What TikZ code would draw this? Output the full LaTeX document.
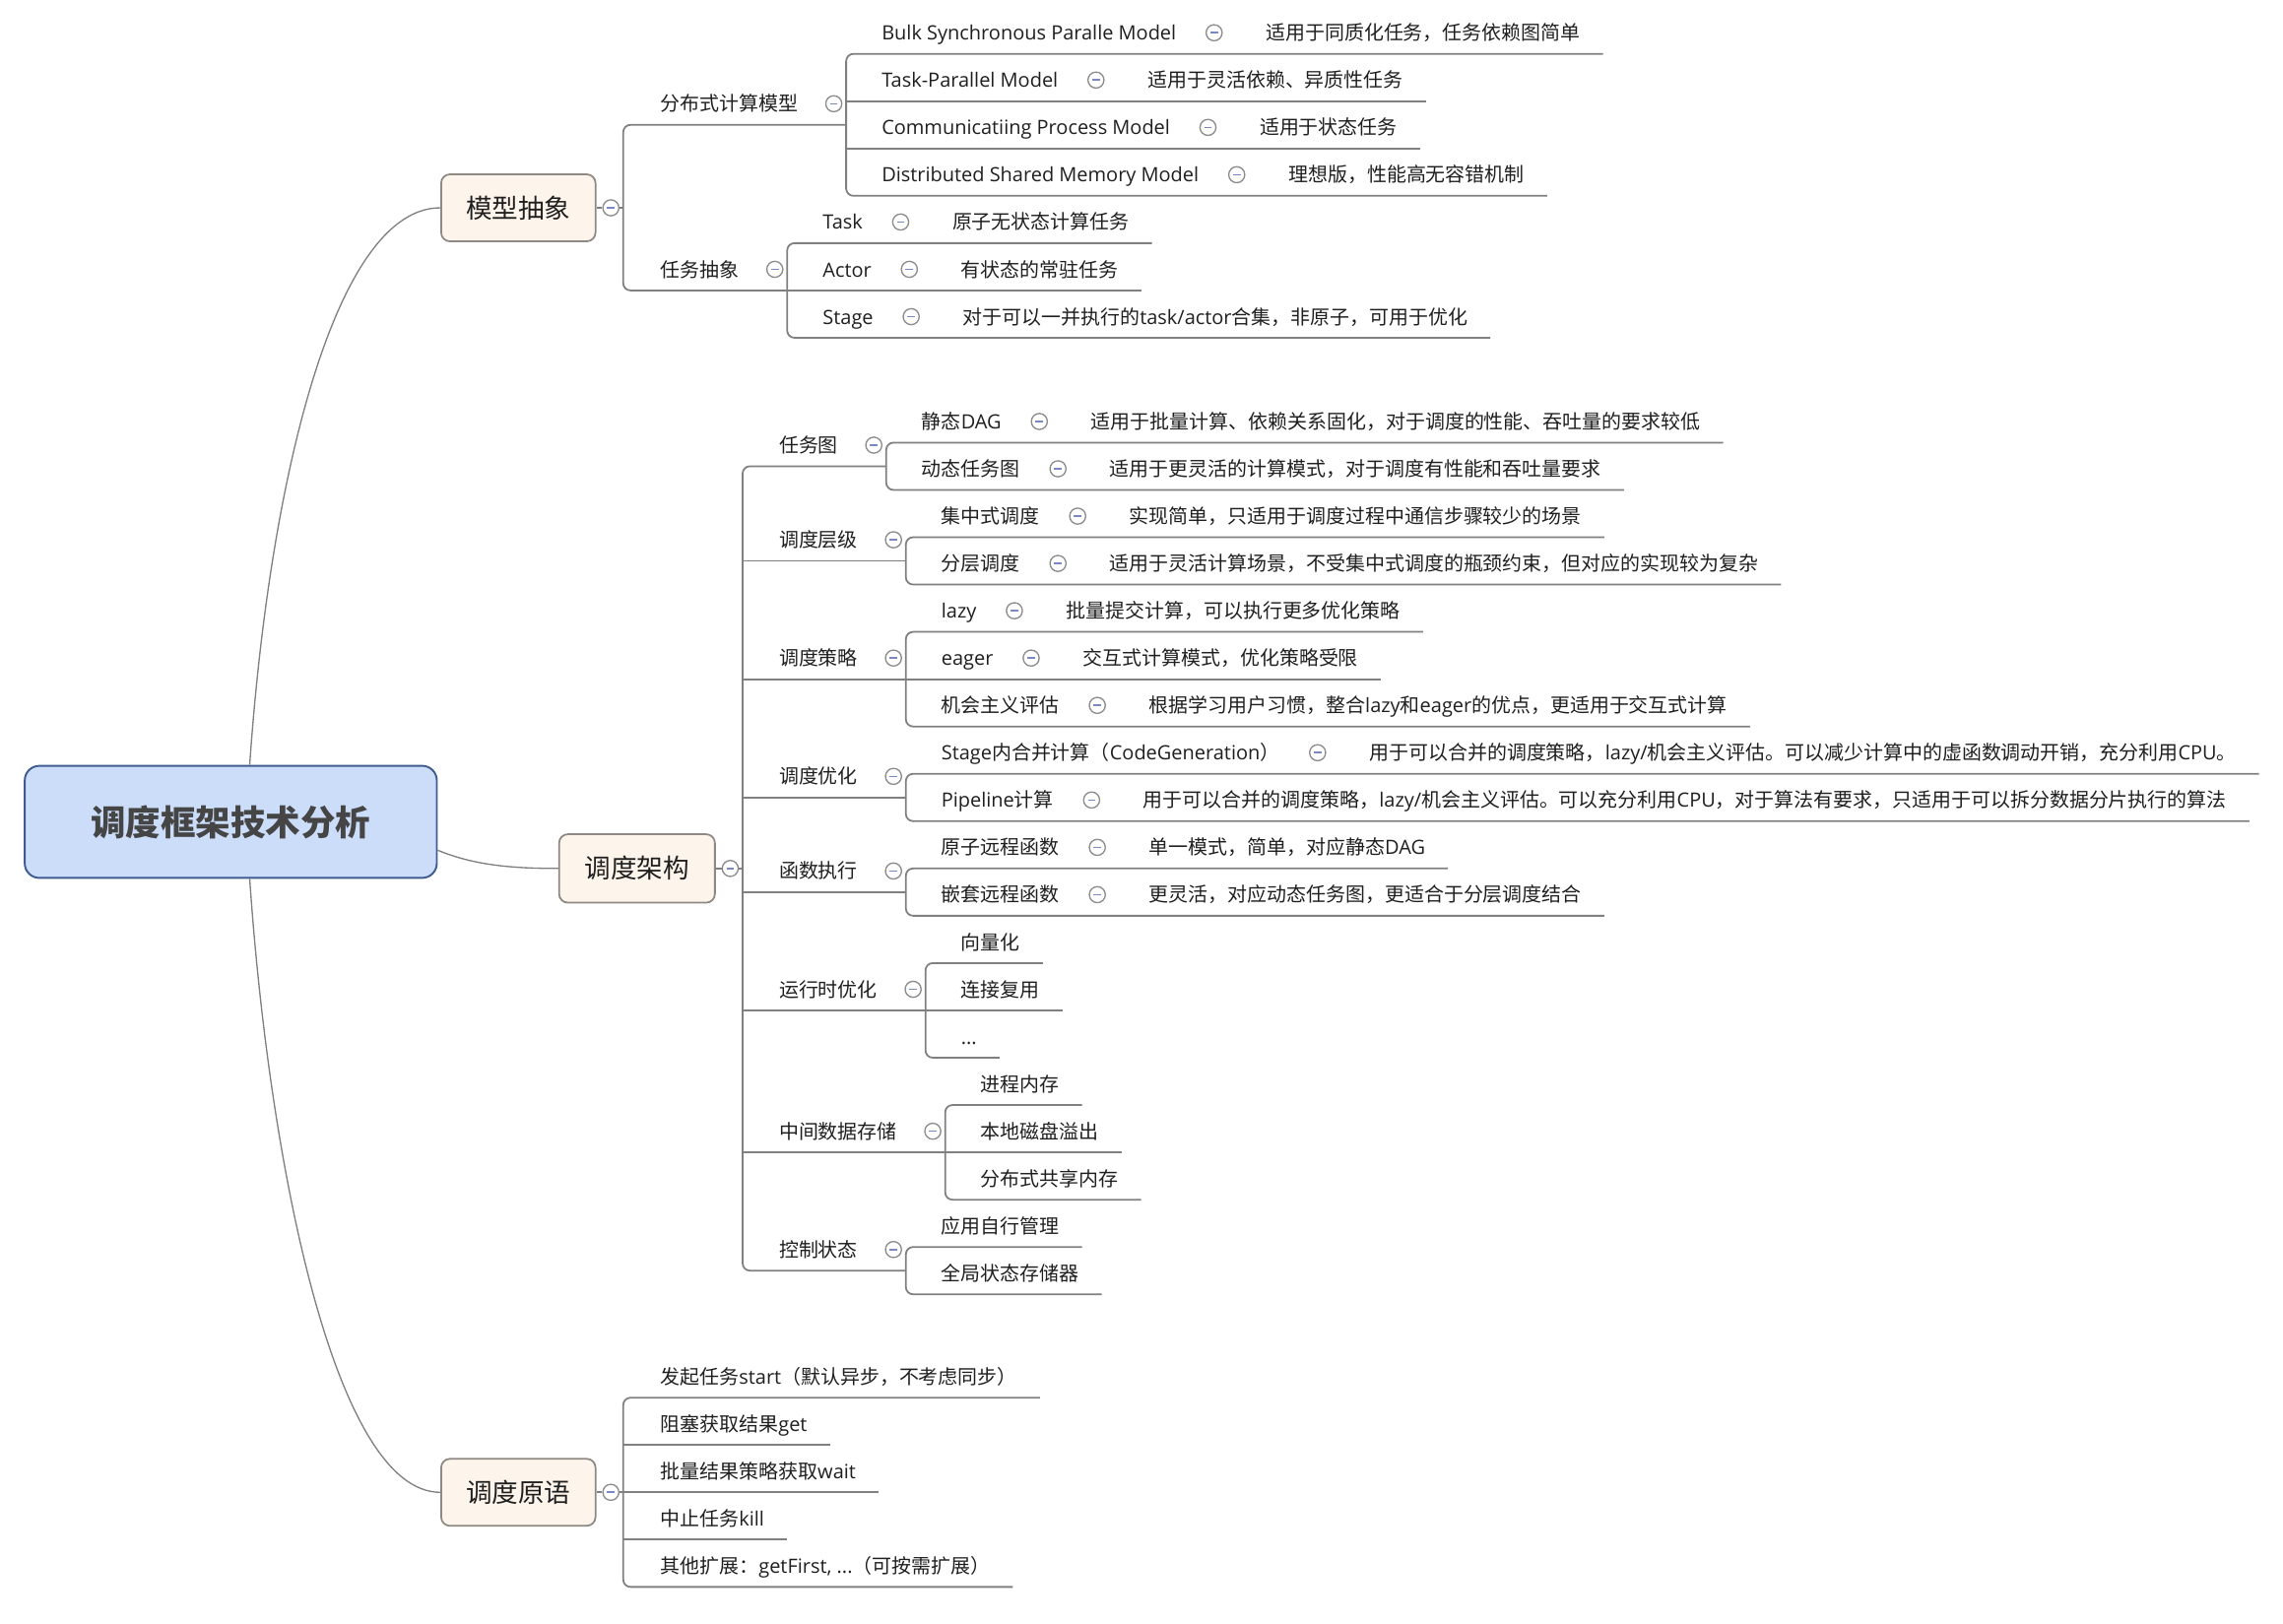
\documentclass[tikz,border=0pt]{standalone}
\usepackage{fontspec}
\setmainfont{Noto Sans CJK SC}
\newfontfamily\latinfont{Open Sans}
\newcommand{\entext}[1]{{\latinfont #1}}
\usetikzlibrary{positioning, calc}
\definecolor{cbluefill}{HTML}{CCDDFA}
\definecolor{cnavy}{HTML}{3E5C8F}
\definecolor{ccream}{HTML}{FDF4EB}
\definecolor{ctan}{HTML}{8F8984}
\definecolor{cline}{HTML}{808080}
\definecolor{cfold}{HTML}{8C8C8C}
\definecolor{cminus}{HTML}{7B88C6}
\definecolor{ctext}{HTML}{1F1F1F}
\definecolor{croottext}{HTML}{454545}
\tikzset{
  every picture/.style={line width=1.2pt},
  rootbox/.style={draw=cnavy, fill=cbluefill, rounded corners=10pt, line width=1.3pt, minimum width=283pt, minimum height=77pt, text=croottext, font=\fontsize{24}{28}\selectfont\bfseries},
  topicbox/.style={draw=ctan, fill=ccream, rounded corners=6pt, line width=1.2pt, minimum width=106pt, minimum height=46pt, text=ctext, font=\fontsize{18}{22}\selectfont},
  leaftext/.style={anchor=west, inner sep=0pt, text height=11.5pt, text depth=1.3pt, text=ctext, font=\fontsize{13.5}{16}\selectfont},
  foldbtn/.style={circle, draw=cfold, fill=white, line width=0.9pt, minimum size=11pt, inner sep=0pt,
    path picture={\draw[cminus, line width=1.1pt] ([xshift=-2.6pt]path picture bounding box.center) -- ([xshift=2.6pt]path picture bounding box.center);}},
  branch/.style={draw=cline, line width=1.2pt},
  rootline/.style={draw=cline, line width=0.9pt},
}

\begin{document}
\begin{tikzpicture}[x=1pt, y=-1pt]
  \useasboundingbox (0,0) rectangle (1568,1115);

  \node[rootbox] (root) at (158.5,564.5) {调度框架技术分析};
  \node[topicbox] (model) at (356,142.75) {模型抽象};
  \node[topicbox, minimum width=107pt, minimum height=47pt] (arch) at (437.5,596.5) {调度架构};
  \node[topicbox] (prim) at (356,1025) {调度原语};

  \draw[rootline] ($(root.north)+(13,0)$) .. controls (185,330) and (230,142.75) .. (model.west);
  \draw[rootline] ($(root.east)+(0,19.5)$) .. controls (325,594) and (350,596.5) .. (arch.west);
  \draw[rootline] ($(root.south)+(13,0)$) .. controls (185,800) and (230,1025) .. (prim.west);

  \node[foldbtn, right=4pt of model] (modelf) {};
  \coordinate (models) at ($(modelf)+(8.5,0)$);
  \draw[branch] (model) -- (modelf) (modelf) -- (models);
  \node[foldbtn, right=4pt of arch] (archf) {};
  \coordinate (archs) at ($(archf)+(8.5,0)$);
  \draw[branch] (arch) -- (archf) (archf) -- (archs);
  \node[foldbtn, right=4pt of prim] (primf) {};
  \coordinate (prims) at ($(primf)+(8.5,0)$);
  \draw[branch] (prim) -- (primf) (primf) -- (prims);

  % 模型抽象
  \node[leaftext] (dm) at (453,71.25) {分布式计算模型};
  \node[foldbtn, right=18pt of dm] (dmf) {};
  \coordinate (dmx) at ($(dmf)+(8.5,14.5)$);
  \node[leaftext] (rw) at (453,185) {任务抽象};
  \node[foldbtn, right=18pt of rw] (rwf) {};
  \coordinate (rwx) at ($(rwf)+(8.5,14.5)$);
  \draw[branch, rounded corners=5pt] (dmx) -- (dmx -| models) -- (rwx -| models) -- (rwx);

  \node[leaftext] (m1) at (605,22.5) {\entext{Bulk Synchronous Paralle Model}};
  \node[foldbtn, right=19.5pt of m1] (m1f) {};
  \node[leaftext, right=29pt of m1f] (m1d) {适用于同质化任务，任务依赖图简单};
  \coordinate (m1e) at ($(m1d.east)+(15,14.5)$);
  \node[leaftext] (m2) at (605,55) {\entext{Task-Parallel Model}};
  \node[foldbtn, right=19.5pt of m2] (m2f) {};
  \node[leaftext, right=29pt of m2f] (m2d) {适用于灵活依赖、异质性任务};
  \coordinate (m2e) at ($(m2d.east)+(15,14.5)$);
  \node[leaftext] (m3) at (605,87.5) {\entext{Communicatiing Process Model}};
  \node[foldbtn, right=19.5pt of m3] (m3f) {};
  \node[leaftext, right=29pt of m3f] (m3d) {适用于状态任务};
  \coordinate (m3e) at ($(m3d.east)+(15,14.5)$);
  \node[leaftext] (m4) at (605,120) {\entext{Distributed Shared Memory Model}};
  \node[foldbtn, right=19.5pt of m4] (m4f) {};
  \node[leaftext, right=29pt of m4f] (m4d) {理想版，性能高无容错机制};
  \coordinate (m4e) at ($(m4d.east)+(15,14.5)$);
  \draw[branch, rounded corners=5pt] (m1e) -- (m1e -| dmx) -- (m4e -| dmx) -- (m4e);
  \draw[branch] (m2e -| dmx) -- (m2e) (m3e -| dmx) -- (m3e);

  \node[leaftext] (r1) at (564.5,152.5) {\entext{Task}};
  \node[foldbtn, right=19.5pt of r1] (r1f) {};
  \node[leaftext, right=29pt of r1f] (r1d) {原子无状态计算任务};
  \coordinate (r1e) at ($(r1d.east)+(15,14.5)$);
  \node[leaftext] (r2) at (564.5,185) {\entext{Actor}};
  \node[foldbtn, right=19.5pt of r2] (r2f) {};
  \node[leaftext, right=29pt of r2f] (r2d) {有状态的常驻任务};
  \coordinate (r2e) at ($(r2d.east)+(15,14.5)$);
  \node[leaftext] (r3) at (564.5,217.5) {\entext{Stage}};
  \node[foldbtn, right=19.5pt of r3] (r3f) {};
  \node[leaftext, right=29pt of r3f] (r3d) {对于可以一并执行的\entext{task/actor}合集，非原子，可用于优化};
  \coordinate (r3e) at ($(r3d.east)+(15,14.5)$);
  \draw[branch, rounded corners=5pt] (r1e) -- (r1e -| rwx) -- (r3e -| rwx) -- (r3e);
  \draw[branch] (r2e -| rwx) -- (r2e);

  % 调度架构
  \node[leaftext] (tg) at (534.5,305.75) {任务图};
  \node[foldbtn, right=18pt of tg] (tgf) {};
  \coordinate (tgx) at ($(tgf)+(8.5,14.5)$);
  \node[leaftext] (cj) at (534.5,370.75) {调度层级};
  \node[foldbtn, right=18pt of cj] (cjf) {};
  \coordinate (cjx) at ($(cjf)+(8.5,14.5)$);
  \node[leaftext] (cl) at (534.5,452) {调度策略};
  \node[foldbtn, right=18pt of cl] (clf) {};
  \coordinate (clx) at ($(clf)+(8.5,14.5)$);
  \node[leaftext] (yh) at (534.5,533.25) {调度优化};
  \node[foldbtn, right=18pt of yh] (yhf) {};
  \coordinate (yhx) at ($(yhf)+(8.5,14.5)$);
  \node[leaftext] (hs) at (534.5,598.25) {函数执行};
  \node[foldbtn, right=18pt of hs] (hsf) {};
  \coordinate (hsx) at ($(hsf)+(8.5,14.5)$);
  \node[leaftext] (yx) at (534.5,679.5) {运行时优化};
  \node[foldbtn, right=18pt of yx] (yxf) {};
  \coordinate (yxx) at ($(yxf)+(8.5,14.5)$);
  \node[leaftext] (zj) at (534.5,777) {中间数据存储};
  \node[foldbtn, right=18pt of zj] (zjf) {};
  \coordinate (zjx) at ($(zjf)+(8.5,14.5)$);
  \node[leaftext] (kz) at (534.5,858.25) {控制状态};
  \node[foldbtn, right=18pt of kz] (kzf) {};
  \coordinate (kzx) at ($(kzf)+(8.5,14.5)$);
  \draw[branch, rounded corners=5pt] (tgx) -- (tgx -| archs) -- (kzx -| archs) -- (kzx);
  \draw[branch] (cjx -| archs) -- (cjx) (clx -| archs) -- (clx) (yhx -| archs) -- (yhx)
    (hsx -| archs) -- (hsx) (yxx -| archs) -- (yxx) (zjx -| archs) -- (zjx);

  \node[leaftext] (tg1) at (632.5,289.5) {静态\entext{DAG}};
  \node[foldbtn, right=19.5pt of tg1] (tg1f) {};
  \node[leaftext, right=29pt of tg1f] (tg1d) {适用于批量计算、依赖关系固化，对于调度的性能、吞吐量的要求较低};
  \coordinate (tg1e) at ($(tg1d.east)+(15,14.5)$);
  \node[leaftext] (tg2) at (632.5,322) {动态任务图};
  \node[foldbtn, right=19.5pt of tg2] (tg2f) {};
  \node[leaftext, right=29pt of tg2f] (tg2d) {适用于更灵活的计算模式，对于调度有性能和吞吐量要求};
  \coordinate (tg2e) at ($(tg2d.east)+(15,14.5)$);
  \draw[branch, rounded corners=5pt] (tg1e) -- (tg1e -| tgx) -- (tg2e -| tgx) -- (tg2e);

  \node[leaftext] (cj1) at (646,354.5) {集中式调度};
  \node[foldbtn, right=19.5pt of cj1] (cj1f) {};
  \node[leaftext, right=29pt of cj1f] (cj1d) {实现简单，只适用于调度过程中通信步骤较少的场景};
  \coordinate (cj1e) at ($(cj1d.east)+(15,14.5)$);
  \node[leaftext] (cj2) at (646,387) {分层调度};
  \node[foldbtn, right=19.5pt of cj2] (cj2f) {};
  \node[leaftext, right=29pt of cj2f] (cj2d) {适用于灵活计算场景，不受集中式调度的瓶颈约束，但对应的实现较为复杂};
  \coordinate (cj2e) at ($(cj2d.east)+(15,14.5)$);
  \draw[branch, rounded corners=5pt] (cj1e) -- (cj1e -| cjx) -- (cj2e -| cjx) -- (cj2e);

  \node[leaftext] (cl1) at (646,419.5) {\entext{lazy}};
  \node[foldbtn, right=19.5pt of cl1] (cl1f) {};
  \node[leaftext, right=29pt of cl1f] (cl1d) {批量提交计算，可以执行更多优化策略};
  \coordinate (cl1e) at ($(cl1d.east)+(15,14.5)$);
  \node[leaftext] (cl2) at (646,452) {\entext{eager}};
  \node[foldbtn, right=19.5pt of cl2] (cl2f) {};
  \node[leaftext, right=29pt of cl2f] (cl2d) {交互式计算模式，优化策略受限};
  \coordinate (cl2e) at ($(cl2d.east)+(15,14.5)$);
  \node[leaftext] (cl3) at (646,484.5) {机会主义评估};
  \node[foldbtn, right=19.5pt of cl3] (cl3f) {};
  \node[leaftext, right=29pt of cl3f] (cl3d) {根据学习用户习惯，整合\entext{lazy}和\entext{eager}的优点，更适用于交互式计算};
  \coordinate (cl3e) at ($(cl3d.east)+(15,14.5)$);
  \draw[branch, rounded corners=5pt] (cl1e) -- (cl1e -| clx) -- (cl3e -| clx) -- (cl3e);
  \draw[branch] (cl2e -| clx) -- (cl2e);

  \node[leaftext] (yh1) at (646,517) {\entext{Stage}内合并计算（\entext{CodeGeneration}）};
  \node[foldbtn, right=19.5pt of yh1] (yh1f) {};
  \node[leaftext, right=29pt of yh1f] (yh1d) {用于可以合并的调度策略，\entext{lazy/}机会主义评估。可以减少计算中的虚函数调动开销，充分利用\entext{CPU}。};
  \coordinate (yh1e) at ($(yh1d.east)+(15,14.5)$);
  \node[leaftext] (yh2) at (646,549.5) {\entext{Pipeline}计算};
  \node[foldbtn, right=19.5pt of yh2] (yh2f) {};
  \node[leaftext, right=29pt of yh2f] (yh2d) {用于可以合并的调度策略，\entext{lazy/}机会主义评估。可以充分利用\entext{CPU}，对于算法有要求，只适用于可以拆分数据分片执行的算法};
  \coordinate (yh2e) at ($(yh2d.east)+(15,14.5)$);
  \draw[branch, rounded corners=5pt] (yh1e) -- (yh1e -| yhx) -- (yh2e -| yhx) -- (yh2e);

  \node[leaftext] (hs1) at (646,582) {原子远程函数};
  \node[foldbtn, right=19.5pt of hs1] (hs1f) {};
  \node[leaftext, right=29pt of hs1f] (hs1d) {单一模式，简单，对应静态\entext{DAG}};
  \coordinate (hs1e) at ($(hs1d.east)+(15,14.5)$);
  \node[leaftext] (hs2) at (646,614.5) {嵌套远程函数};
  \node[foldbtn, right=19.5pt of hs2] (hs2f) {};
  \node[leaftext, right=29pt of hs2f] (hs2d) {更灵活，对应动态任务图，更适合于分层调度结合};
  \coordinate (hs2e) at ($(hs2d.east)+(15,14.5)$);
  \draw[branch, rounded corners=5pt] (hs1e) -- (hs1e -| hsx) -- (hs2e -| hsx) -- (hs2e);

  \node[leaftext] (yx1) at (659.5,647) {向量化};
  \coordinate (yx1e) at ($(yx1.east)+(15,14.5)$);
  \node[leaftext] (yx2) at (659.5,679.5) {连接复用};
  \coordinate (yx2e) at ($(yx2.east)+(15,14.5)$);
  \node[leaftext] (yx3) at (659.5,712) {\entext{...}};
  \coordinate (yx3e) at ($(yx3.east)+(15,14.5)$);
  \draw[branch, rounded corners=5pt] (yx1e) -- (yx1e -| yxx) -- (yx3e -| yxx) -- (yx3e);
  \draw[branch] (yx2e -| yxx) -- (yx2e);

  \node[leaftext] (zj1) at (673,744.5) {进程内存};
  \coordinate (zj1e) at ($(zj1.east)+(15,14.5)$);
  \node[leaftext] (zj2) at (673,777) {本地磁盘溢出};
  \coordinate (zj2e) at ($(zj2.east)+(15,14.5)$);
  \node[leaftext] (zj3) at (673,809.5) {分布式共享内存};
  \coordinate (zj3e) at ($(zj3.east)+(15,14.5)$);
  \draw[branch, rounded corners=5pt] (zj1e) -- (zj1e -| zjx) -- (zj3e -| zjx) -- (zj3e);
  \draw[branch] (zj2e -| zjx) -- (zj2e);

  \node[leaftext] (kz1) at (646,842) {应用自行管理};
  \coordinate (kz1e) at ($(kz1.east)+(15,14.5)$);
  \node[leaftext] (kz2) at (646,874.5) {全局状态存储器};
  \coordinate (kz2e) at ($(kz2.east)+(15,14.5)$);
  \draw[branch, rounded corners=5pt] (kz1e) -- (kz1e -| kzx) -- (kz2e -| kzx) -- (kz2e);

  % 调度原语
  \node[leaftext] (p1) at (453,945.5) {发起任务\entext{start}（默认异步，不考虑同步）};
  \coordinate (p1e) at ($(p1.east)+(15,14.5)$);
  \node[leaftext] (p2) at (453,978) {阻塞获取结果\entext{get}};
  \coordinate (p2e) at ($(p2.east)+(15,14.5)$);
  \node[leaftext] (p3) at (453,1010.5) {批量结果策略获取\entext{wait}};
  \coordinate (p3e) at ($(p3.east)+(15,14.5)$);
  \node[leaftext] (p4) at (453,1043) {中止任务\entext{kill}};
  \coordinate (p4e) at ($(p4.east)+(15,14.5)$);
  \node[leaftext] (p5) at (453,1075.5) {其他扩展：\entext{getFirst, ...}（可按需扩展）};
  \coordinate (p5e) at ($(p5.east)+(15,14.5)$);
  \draw[branch, rounded corners=5pt] (p1e) -- (p1e -| prims) -- (p5e -| prims) -- (p5e);
  \draw[branch] (p2e -| prims) -- (p2e) (p3e -| prims) -- (p3e) (p4e -| prims) -- (p4e);
\end{tikzpicture}
\end{document}
